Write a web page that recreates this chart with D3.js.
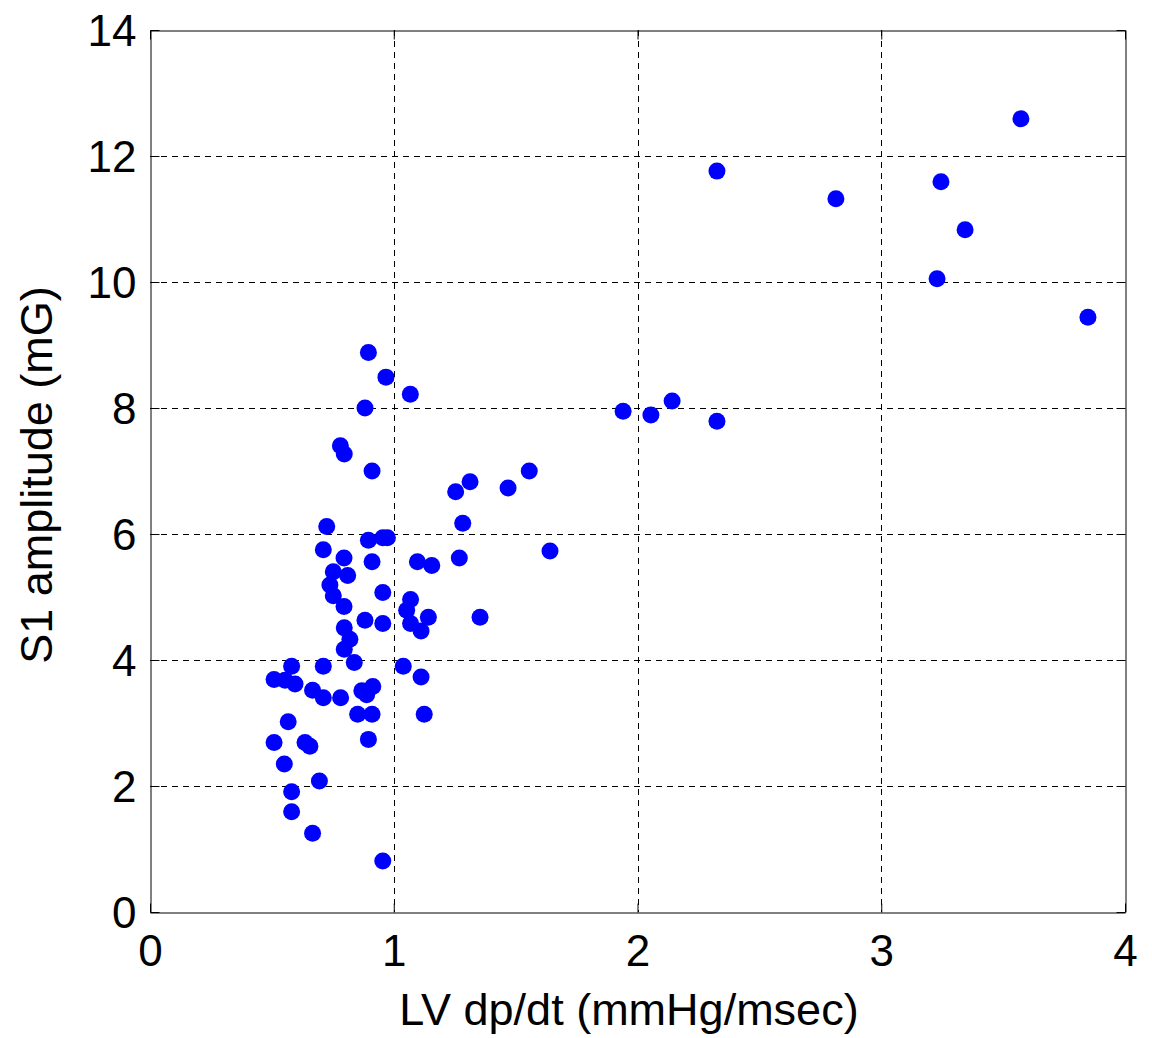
<!DOCTYPE html>
<html><head><meta charset="utf-8">
<script src="https://cdn.jsdelivr.net/npm/d3@7"></script>
<style>body{margin:0;background:#fff}svg{display:block}text{font-family:"Liberation Sans",Arial,sans-serif}</style>
</head><body>
<script>
const xTicks=[0,1,2,3,4];
const yTicks=[0,2,4,6,8,10,12,14];
const xLabel="LV dp/dt (mmHg/msec)";
const yLabel="S1 amplitude (mG)";
const dpdt=[3.573,2.326,3.245,2.814,3.344,3.229,3.848,2.142,1.941,2.055,2.326,1.556,1.313,1.469,1.254,1.283,1.641,1.269,1.354,
0.896,0.968,1.068,0.882,0.781,0.797,0.911,0.725,0.896,0.955,0.974,0.711,0.796,0.911,1.097,1.156,0.752,0.811,0.738,0.752,0.955,1.069,1.053,0.796,1.142,0.882,0.955,1.069,1.112,0.797,0.820,0.797,0.838,0.581,0.711,1.039,0.509,0.554,0.595,1.112,0.667,0.711,0.782,0.869,0.914,0.889,0.852,0.911,1.125,0.567,0.509,0.636,0.656,0.896,0.551,0.695,0.581,0.581,0.667,0.955];
const s1amp=[12.59,11.76,11.59,11.32,10.83,10.05,9.44,8.11,7.95,7.89,7.79,7.00,6.83,6.73,6.67,6.17,5.73,5.62,4.68,
8.88,8.49,8.22,8.00,7.40,7.27,7.00,6.12,5.90,5.94,5.94,5.75,5.62,5.56,5.56,5.50,5.40,5.34,5.19,5.02,5.07,4.96,4.79,4.85,4.68,4.63,4.58,4.58,4.46,4.51,4.33,4.17,3.96,3.90,3.90,3.90,3.69,3.68,3.62,3.73,3.52,3.40,3.40,3.51,3.58,3.45,3.14,3.14,3.14,3.02,2.69,2.69,2.63,2.74,2.35,2.08,1.91,1.59,1.25,0.81];

const W=1152,H=1038,L=150,R=1125,T=30,B=912;
const svg=d3.select("body").append("svg").attr("width",W).attr("height",H);
const x=d3.scaleLinear().domain([0,4]).range([L,R]);
const y=d3.scaleLinear().domain([0,14]).range([B,T]);
const fs=44, lfs=45;

// grid
const g=svg.append("g");
g.selectAll(".vg").data(xTicks.slice(1,-1)).join("line")
 .attr("x1",d=>Math.round(x(d))+0.5).attr("x2",d=>Math.round(x(d))+0.5).attr("y1",T).attr("y2",B)
 .attr("stroke","#000").attr("stroke-width",1).attr("stroke-dasharray","6,5");
g.selectAll(".hg").data(yTicks.slice(1,-1)).join("line")
 .attr("y1",d=>Math.round(y(d))+0.5).attr("y2",d=>Math.round(y(d))+0.5).attr("x1",L).attr("x2",R)
 .attr("stroke","#000").attr("stroke-width",1).attr("stroke-dasharray","6,5");

// axes (inward ticks)
const ax=(a)=>a.tickSizeInner(-9).tickSizeOuter(0).tickPadding(0);
const xb=svg.append("g").attr("transform",`translate(0,${B+0.5})`).call(ax(d3.axisBottom(x).tickValues(xTicks).tickFormat(d3.format("d"))));
const xt=svg.append("g").attr("transform",`translate(0,${T+0.5})`).call(ax(d3.axisTop(x).tickValues(xTicks).tickFormat("")));
const yl=svg.append("g").attr("transform",`translate(${L+0.5},0)`).call(ax(d3.axisLeft(y).tickValues(yTicks).tickFormat(d3.format("d"))));
const yr=svg.append("g").attr("transform",`translate(${R+0.5},0)`).call(ax(d3.axisRight(y).tickValues(yTicks).tickFormat("")));
[xb,xt,yl,yr].forEach(a=>{a.selectAll("path,line").attr("stroke","#000").attr("stroke-width",1);a.selectAll("text").attr("fill","#000").style("font-size",fs+"px").style("font-family","'Liberation Sans',Arial,sans-serif");});
xb.selectAll("text").attr("dy",null).attr("y",53);
yl.selectAll("text").attr("x",-14).attr("dy","0.36em");

// points
svg.append("g").selectAll("circle").data(dpdt.map((d,i)=>[d,s1amp[i]])).join("circle")
 .attr("cx",d=>x(d[0])).attr("cy",d=>y(d[1])).attr("r",8.5).attr("fill","#0000ff");

// labels
svg.append("text").attr("x",629).attr("y",1025).attr("text-anchor","middle").style("font-size",lfs+"px").text(xLabel);
svg.append("text").attr("transform",`translate(52,475) rotate(-90)`).attr("text-anchor","middle").style("font-size",lfs+"px").text(yLabel);
</script>
</body></html>
